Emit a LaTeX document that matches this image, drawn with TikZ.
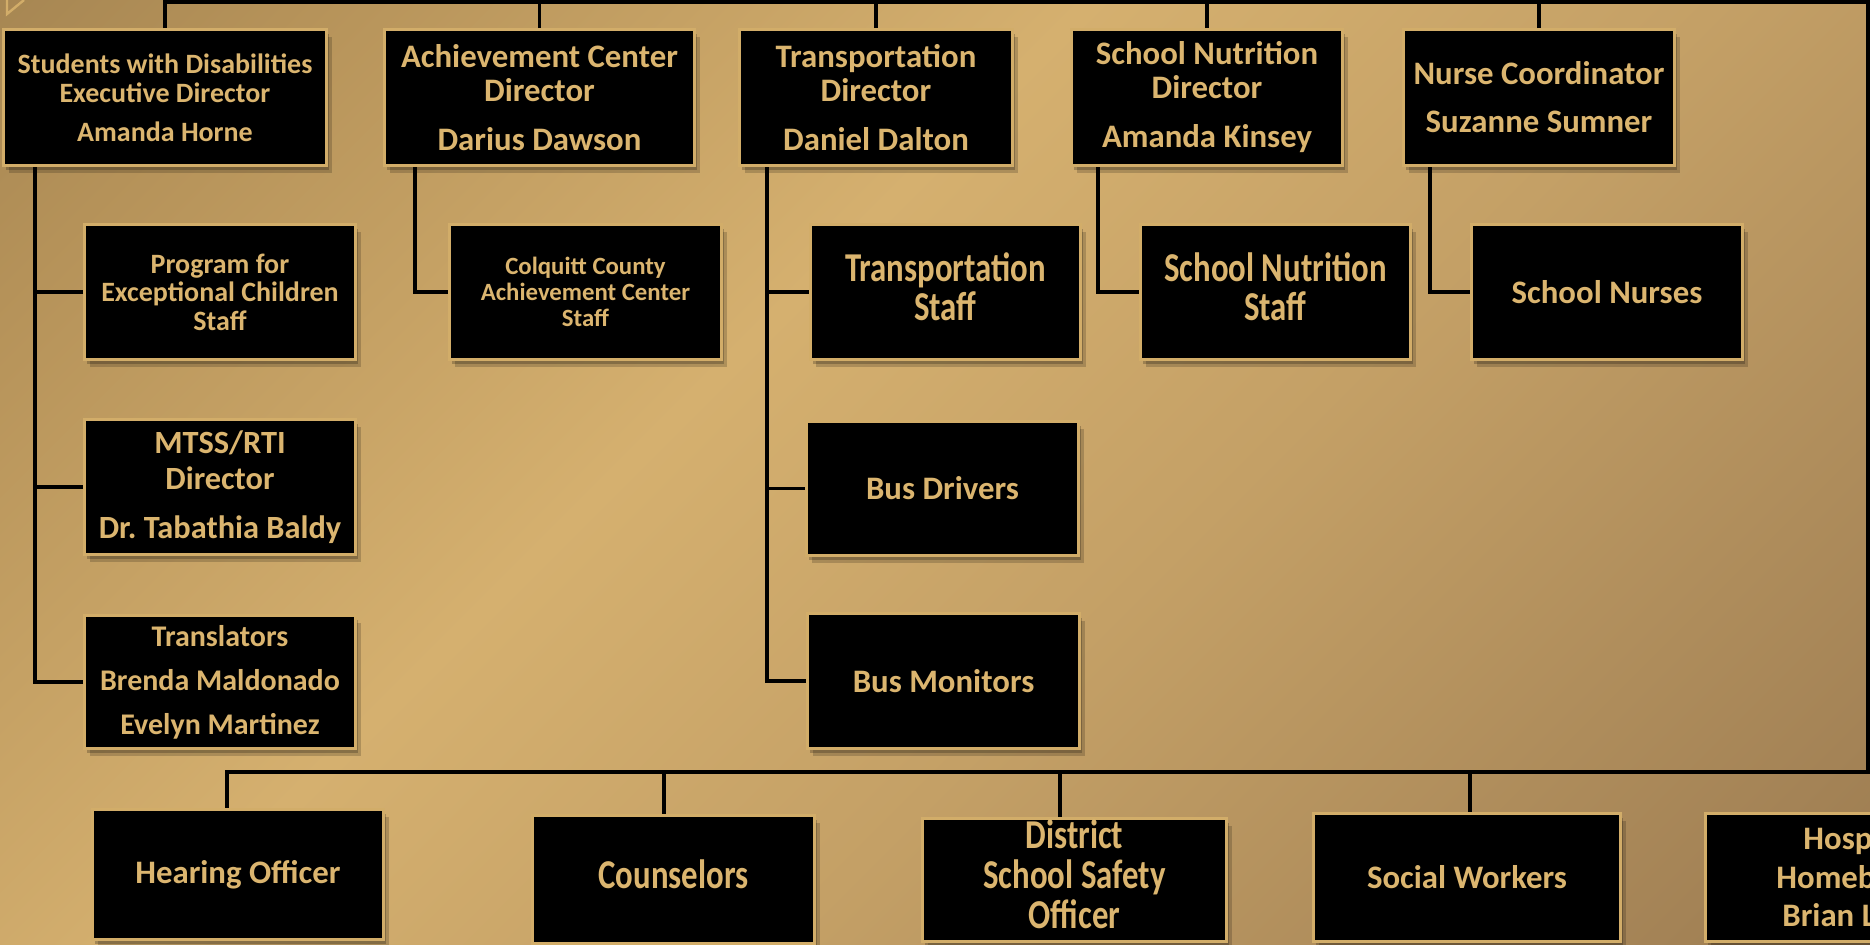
\documentclass[tikz,border=0pt]{standalone}
\usepackage{fontspec}
\setmainfont{Carlito}
\usepackage{graphicx}
\usetikzlibrary{shadows}
\definecolor{bgA}{HTML}{8C7147}
\definecolor{bgB}{HTML}{B59259}
\definecolor{bgC}{HTML}{D5B06F}
\definecolor{bgD}{HTML}{C4A066}
\definecolor{bgE}{HTML}{A48356}
\definecolor{bgF}{HTML}{86693F}
\definecolor{bordergold}{HTML}{D2AD69}
\definecolor{txtgold}{HTML}{DBB56F}
\pgfdeclarehorizontalshading{bgsh}{100bp}{color(0bp)=(bgA); color(22bp)=(bgB); color(42bp)=(bgC); color(58bp)=(bgD); color(80bp)=(bgE); color(100bp)=(bgF)}
\newcommand\fsz[2]{\fontsize{#1}{#2}\selectfont}
\newcommand\vst[2]{\scalebox{1}[#1]{\begin{tabular}{@{}c@{}}#2\end{tabular}}}
\tikzset{
  box/.style={draw=bordergold, line width=1.5pt, fill=black, text=txtgold, align=center, inner sep=0pt,
    general shadow={fill=black, opacity=.18, shadow xshift=2.5pt, shadow yshift=-3.5pt},
    general shadow={fill=black, opacity=.22, shadow xshift=1pt, shadow yshift=-2pt}},
  wh/.style 2 args={minimum width={(#1)*0.5pt-1.5pt}, minimum height={(#2)*0.5pt-1.5pt}},
  big/.style={font=\bfseries\fsz{16.4pt}{17pt}},
  conn/.style={draw=black, line width=1.6pt},
  frag/.style={text=txtgold, font=\bfseries\fsz{16.4pt}{17pt}, inner sep=0pt, anchor=base west},
}
\begin{document}
\begin{tikzpicture}[x=0.5pt, y=-0.5pt]
\useasboundingbox (0,0) rectangle (1870,944);
\clip (0,0) rectangle (1870,944);
\fill[shading=bgsh, shading angle=-45] (0,0) rectangle (1870,944);
% corner fragment
\draw[draw=bordergold, line width=1.2pt, line join=miter] (7,0) -- (7,14) -- (24,0);

% top row
\node[box, wh={326}{139}, font=\bfseries\fsz{14pt}{14.5pt}] (swd) at (165,97.5) {Students with Disabilities\\Executive Director\\[5pt]Amanda Horne};
\node[box, wh={313}{139}, big] (ach) at (539.5,97.5) {Achievement Center\\Director\\[7.5pt]Darius Dawson};
\node[box, wh={276}{139}, big] (trd) at (876,97.5) {Transportation\\Director\\[7.5pt]Daniel Dalton};
\node[box, wh={274}{139}, big] (nud) at (1207,97.5) {School Nutrition\\Director\\[7.5pt]Amanda Kinsey};
\node[box, wh={274}{139}, big] (nur) at (1539,97.5) {Nurse Coordinator\\[7pt]Suzanne Sumner};

% second row
\node[box, wh={274}{138}, font=\bfseries\fsz{14pt}{14.3pt}] (pec) at (220,292) {Program for\\Exceptional Children\\Staff};
\node[box, wh={275}{138}, font=\bfseries\fsz{12.4pt}{13pt}] (ccs) at (585.5,292) {Colquitt County\\Achievement Center\\Staff};
\node[box, wh={273}{138}, font=\bfseries\fsz{16.4pt}{14.4pt}] (trs) at (945.5,292) {\vst{1.25}{Transportation\\Staff}};
\node[box, wh={273}{138}, font=\bfseries\fsz{16.4pt}{14.4pt}] (nus) at (1275.5,292) {\vst{1.25}{School Nutrition\\Staff}};
\node[box, wh={274}{138}, big] (snu) at (1607,292) {School Nurses};

% third and fourth rows
\node[box, wh={274}{138}, font=\bfseries\fsz{16.2pt}{18pt}] (mtss) at (220,487) {MTSS/RTI\\Director\\[6.5pt]Dr.\ Tabathia Baldy};
\node[box, wh={275}{137}, big] (bdr) at (942.5,488.5) {Bus Drivers};
\node[box, wh={274}{136}, font=\bfseries\fsz{15pt}{22pt}] (trl) at (220,682) {Translators\\Brenda Maldonado\\Evelyn Martinez};
\node[box, wh={275}{138}, big] (bmo) at (943.5,681) {Bus Monitors};

% bottom row
\node[box, wh={294}{133}, big] (hear) at (238,874.5) {Hearing Officer};
\node[box, wh={285}{131}, font=\bfseries\fsz{16.4pt}{15.2pt}] (cou) at (673.5,879.5) {\vst{1.25}{Counselors}};
\node[box, wh={307}{126}, font=\bfseries\fsz{16.4pt}{15.2pt}] (dis) at (1074.5,880) {\vst{1.25}{District\\School Safety\\Officer}};
\node[box, wh={310}{131}, big] (soc) at (1467,877.5) {Social Workers};
\node[box, wh={306}{131}] (hos) at (1857,877.5) {};
\node[frag] (hos1) at (1803,849) {Hosp};
\node[frag] (hos2) at (1776,888) {Homeb};
\node[frag] (hos3) at (1782,926) {Brian L};

% connector frame
\coordinate (topL) at (165,2);
\coordinate (topR) at (1868,2);
\coordinate (botR) at (1868,772);
\coordinate (botL) at (227,772);
\draw[conn] (swd.north) -- (topL) -- (topR) -- (botR) -- (botL) -- (botL |- hear.north);
\foreach \n in {ach,trd,nud,nur} \draw[conn] (\n.north) -- (\n.north |- topL);
\coordinate (cb1) at (664,772);
\coordinate (cb2) at (1060,772);
\coordinate (cb3) at (1470,772);
\draw[conn] (cb1) -- (cb1 |- cou.north);
\draw[conn] (cb2) -- (cb2 |- dis.north);
\draw[conn] (cb3) -- (cb3 |- soc.north);

% spines
\coordinate (sp1) at (35,0);
\coordinate (sp2) at (415,0);
\coordinate (sp3) at (767,0);
\coordinate (sp4) at (1098,0);
\coordinate (sp5) at (1430,0);
\draw[conn] (sp1 |- swd.south) -- (sp1 |- trl.west) -- (trl.west);
\draw[conn] (sp1 |- pec.west) -- (pec.west);
\draw[conn] (sp1 |- mtss.west) -- (mtss.west);
\draw[conn] (sp2 |- ach.south) -- (sp2 |- ccs.west) -- (ccs.west);
\draw[conn] (sp3 |- trd.south) -- (sp3 |- bmo.west) -- (bmo.west);
\draw[conn] (sp3 |- trs.west) -- (trs.west);
\draw[conn] (sp3 |- bdr.west) -- (bdr.west);
\draw[conn] (sp4 |- nud.south) -- (sp4 |- nus.west) -- (nus.west);
\draw[conn] (sp5 |- nur.south) -- (sp5 |- snu.west) -- (snu.west);
\end{tikzpicture}
\end{document}
